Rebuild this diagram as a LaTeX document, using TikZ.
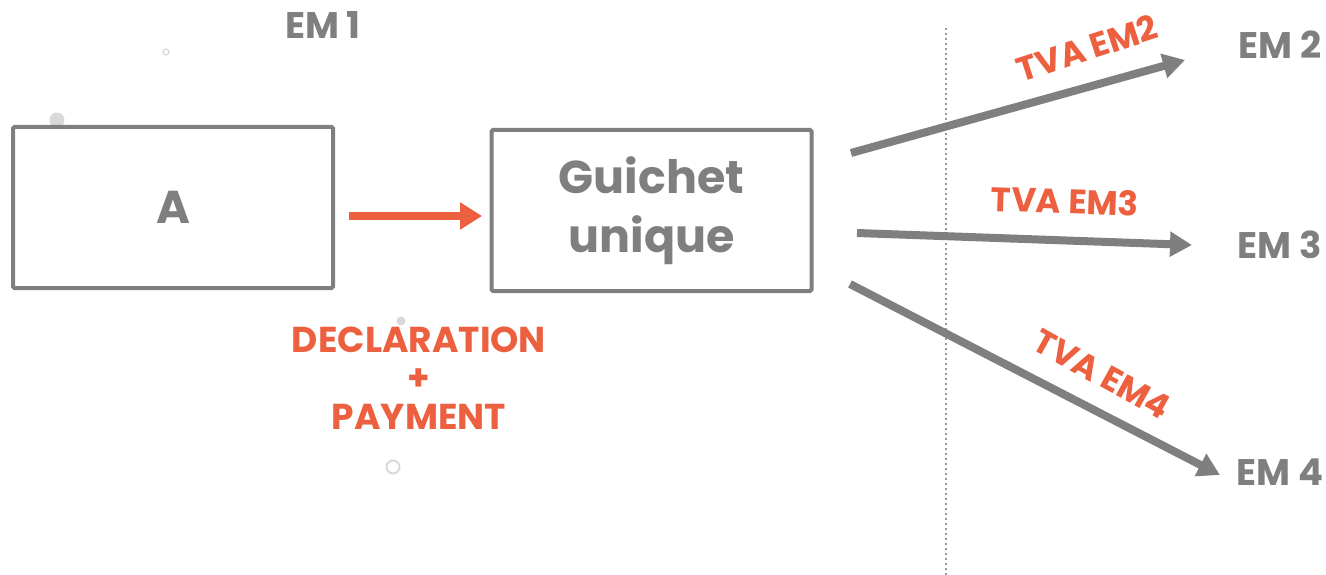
\documentclass[tikz,border=0pt]{standalone}
\usepackage{fontspec}
\setmainfont{Poppins}
\usetikzlibrary{arrows.meta}
\definecolor{boxgray}{HTML}{7F7F7F}
\definecolor{accent}{HTML}{EC5F3F}
\definecolor{dotgray}{HTML}{D9D9D9}
\tikzset{
  box/.style={draw=boxgray, line width=4pt, rounded corners=1.5pt, minimum width=320pt, minimum height=161pt, inner sep=0pt},
  boxtext/.style={text=boxgray, font=\bfseries\fontsize{46}{59}\selectfont, align=center},
  emlabel/.style={text=boxgray, font=\bfseries\fontsize{37}{40}\selectfont},
  tvalabel/.style={text=accent, font=\bfseries\fontsize{34}{38}\selectfont, inner sep=0pt},
  declabel/.style={text=accent, font=\bfseries\fontsize{36}{38.5}\selectfont, align=center},
  grayarrow/.style={draw=boxgray, line width=8pt, -{Triangle[length=22pt,width=24pt]}},
  redarrow/.style={draw=accent, line width=8pt, -{Triangle[length=22pt,width=26pt]}},
}
\begin{document}
\begin{tikzpicture}[x=1pt,y=-1pt]
\useasboundingbox (0,0) rectangle (1326,575);

% decorative dots
\fill[dotgray] (57,120) circle (7.5);
\draw[dotgray, line width=1.2pt] (166,52) circle (3);
\fill[dotgray] (401,321) circle (4.5);
\draw[dotgray, line width=2pt] (393,467) circle (6.5);

% separator
\draw[boxgray!80, line width=2pt, dash pattern=on 2pt off 3pt] (946,28) -- (946,575);

% boxes
\node[box] (a) at (173,207.5) {};
\node[boxtext] at (a.center) {A};
\node[box] (g) at (651.5,210.5) {};
\node[boxtext] at (g.center) {Guichet\\unique};

% labels
\node[emlabel] (em1) at (323,25) {EM 1};
\node[emlabel] (em2) at (1280,45) {EM 2};
\node[emlabel] (em3) at (1280,245) {EM 3};
\node[emlabel] (em4) at (1280,472) {EM 4};

\node[declabel] (decl) at (419,378) {DECLARATION\\+\\PAYMENT};

% connectors
\coordinate (s2) at (851,153);
\coordinate (t2) at (1185,60);
\coordinate (s3) at (857,233);
\coordinate (t3) at (1192,245);
\coordinate (s4) at (850,284);
\coordinate (t4) at (1220,475);
\coordinate (ra) at (349,216);
\coordinate (rb) at (482,216);

\draw[redarrow] (ra) -- (rb);
\draw[grayarrow] (s2) -- (t2);
\draw[grayarrow] (s3) -- (t3);
\draw[grayarrow] (s4) -- (t4);

\node[tvalabel, rotate=18] (tva2) at (1087,48) {TVA EM2};
\node[tvalabel, rotate=-2] (tva3) at (1065,201) {TVA EM3};
\node[tvalabel, rotate=-29] (tva4) at (1102,374) {TVA EM4};
\end{tikzpicture}
\end{document}
